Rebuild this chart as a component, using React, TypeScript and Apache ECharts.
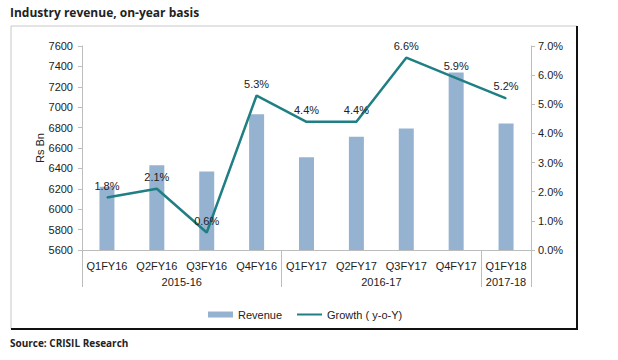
import React, { useEffect, useRef } from "react";
import * as echarts from "echarts";

const quarters = ["Q1FY16", "Q2FY16", "Q3FY16", "Q4FY16", "Q1FY17", "Q2FY17", "Q3FY17", "Q4FY17", "Q1FY18"];
const revenue = [6220, 6430, 6370, 6930, 6510, 6710, 6790, 7340, 6840];
const growth = [1.8, 2.1, 0.6, 5.3, 4.4, 4.4, 6.6, 5.9, 5.2];
const years = ["2015-16", "2016-17", "2017-18"];
const quartersPerYear = [4, 4, 1];

const LABEL_FONT = "'Liberation Sans', Arial, sans-serif";

export default function App() {
  const ref = useRef<HTMLDivElement>(null);
  useEffect(() => {
    document.body.style.margin = "0";
    if (!ref.current) return;
    const chart = echarts.init(ref.current, null, { renderer: "svg" });

    const yearCenters: number[] = [];
    const yearBounds: number[] = [0];
    let acc = 0;
    quartersPerYear.forEach((n) => {
      yearCenters.push(acc + n / 2);
      acc += n;
      yearBounds.push(acc);
    });

    chart.setOption({
      animation: false,
      textStyle: { fontFamily: LABEL_FONT },
      grid: { left: 82, right: 87, top: 46, bottom: 110, containLabel: false },
      graphic: [
        { type: "rect", shape: { x: 11, y: 26, width: 566, height: 303 }, style: { fill: "none", stroke: "#c8c8c8", lineWidth: 1 }, silent: true },
        { type: "line", shape: { x1: 577, y1: 26, x2: 577, y2: 330 }, style: { stroke: "#111", lineWidth: 2 }, silent: true },
        { type: "line", shape: { x1: 11, y1: 329, x2: 578, y2: 329 }, style: { stroke: "#111", lineWidth: 2 }, silent: true },
        { type: "text", left: 10, top: 6, style: { text: "Industry revenue, on-year basis", font: "bold 12px 'Open Sans', sans-serif", fill: "#222" } },
        { type: "text", left: 10, top: 338, style: { text: "Source: CRISIL Research", font: "bold 10px 'Open Sans', sans-serif", fill: "#222" } },
      ],
      legend: {
        left: 203,
        top: 304,
        itemWidth: 25,
        itemHeight: 6,
        itemGap: 14,
        textStyle: { fontSize: 11, color: "#222", fontFamily: LABEL_FONT },
        data: [
          { name: "Revenue", icon: "rect" },
          { name: "Growth ( y-o-Y)", itemStyle: { opacity: 0 } },
        ],
      },
      xAxis: [
        {
          type: "category",
          data: quarters,
          axisLine: { show: true, lineStyle: { color: "#bdbdbd" } },
          axisTick: { show: false },
          axisLabel: { color: "#222", fontSize: 11, margin: 10, interval: 0 },
        },
        {
          type: "value",
          min: 0,
          max: quarters.length,
          position: "bottom",
          axisLine: { show: false },
          splitLine: { show: false },
          axisTick: { show: true, customValues: yearBounds, length: 37, lineStyle: { color: "#bdbdbd" } },
          axisLabel: {
            show: true,
            customValues: yearCenters,
            margin: 26,
            color: "#222",
            fontSize: 11,
            formatter: (v: number) => {
              const i = yearCenters.findIndex((c) => Math.abs(c - v) < 1e-6);
              return i >= 0 ? years[i] : "";
            },
          },
        },
      ],
      yAxis: [
        {
          type: "value",
          min: 5600,
          max: 7600,
          interval: 200,
          name: "Rs Bn",
          nameLocation: "middle",
          nameGap: 37,
          nameMoveOverlap: false,
          nameTextStyle: { color: "#222", fontSize: 11 },
          axisLine: { show: true, lineStyle: { color: "#bdbdbd" } },
          axisTick: { show: true, length: 4, lineStyle: { color: "#bdbdbd" } },
          splitLine: { show: false },
          axisLabel: { color: "#222", fontSize: 11, margin: 9, formatter: (v: number) => String(v) },
        },
        {
          type: "value",
          min: 0,
          max: 7,
          interval: 1,
          position: "right",
          axisLine: { show: true, lineStyle: { color: "#bdbdbd" } },
          axisTick: { show: true, length: 4, lineStyle: { color: "#bdbdbd" } },
          splitLine: { show: false },
          axisLabel: { color: "#222", fontSize: 11, margin: 7, formatter: (v: number) => v.toFixed(1) + "%" },
        },
      ],
      series: [
        {
          name: "Revenue",
          type: "bar",
          data: revenue,
          barWidth: 15,
          itemStyle: { color: "#95b3d0" },
        },
        {
          name: "Growth ( y-o-Y)",
          type: "line",
          yAxisIndex: 1,
          data: growth,
          symbol: "circle",
          symbolSize: 1,
          showSymbol: true,
          lineStyle: { color: "#1f7f83", width: 2.5 },
          itemStyle: { color: "#1f7f83" },
          label: {
            show: true,
            position: "top",
            distance: 6,
            color: "#222",
            fontSize: 11,
            formatter: (p: any) => Number(p.value).toFixed(1) + "%",
          },
          z: 5,
        },
      ],
    });
    return () => chart.dispose();
  }, []);
  return <div ref={ref} style={{ width: 618, height: 360 }} />;
}
